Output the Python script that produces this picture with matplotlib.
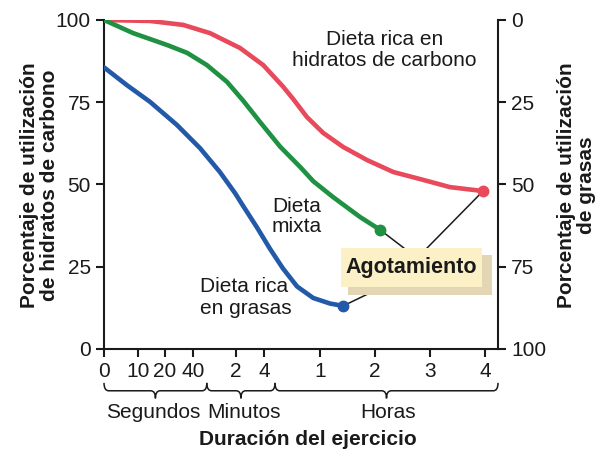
import matplotlib
matplotlib.use("Agg")
import matplotlib.pyplot as plt
from matplotlib.path import Path
from matplotlib.patches import PathPatch, Rectangle
from matplotlib.transforms import blended_transform_factory

plt.rcParams['font.family'] = ['Liberation Sans', 'DejaVu Sans']

# x is position along the axis (0-100), ticks are not evenly spaced in time
tick_pos = [0, 8.6, 15.5, 22.6, 33.5, 40.6, 54.8, 68.8, 82.7, 96.7]
tick_lab = ['0', '10', '20', '40', '2', '4', '1', '2', '3', '4']

# groups under the x axis: (start, end, label)
groups = [(0, 26.1, 'Segundos'), (26.1, 43.4, 'Minutos'), (43.4, 100, 'Horas')]
group_lab_x = [12.6, 35.6, 72.1]

red_x = [0, 11.7, 20.1, 26.9, 34.5, 40.4, 45.4, 48.0, 51.5, 55.6, 60.7, 66.8, 73.4, 81.0, 87.8, 96.2]
red_y = [100, 99.7, 98.5, 96.0, 91.5, 86.3, 79.8, 76.0, 70.5, 65.7, 61.4, 57.4, 53.8, 51.4, 49.2, 48.0]

green_x = [0, 7.4, 16.0, 21.1, 26.1, 31.2, 35.3, 39.6, 44.7, 49.8, 53.1, 58.1, 65.0, 70.1]
green_y = [100, 96.0, 92.4, 90.0, 86.3, 81.2, 75.5, 69.0, 61.5, 55.3, 51.0, 46.2, 40.1, 36.2]

blue_x = [0, 5.8, 11.7, 18.5, 24.4, 29.4, 33.3, 35.3, 38.8, 42.1, 45.4, 49.0, 53.1, 57.4, 60.7]
blue_y = [85.6, 80.2, 75.1, 68.1, 61.0, 53.8, 47.3, 43.5, 37.0, 30.5, 24.5, 19.0, 15.5, 13.8, 13.1]

RED = '#e84a5c'
GREEN = '#1f9142'
BLUE = '#2259a8'
INK = '#1a1a1a'

fig = plt.figure(figsize=(5.95, 4.53), dpi=100)
ax = fig.add_axes([0.1748, 0.2296, 0.6622, 0.7263])

for xs, ys, c in [(red_x, red_y, RED), (green_x, green_y, GREEN), (blue_x, blue_y, BLUE)]:
    ax.plot(xs, ys, color=c, lw=3.3, solid_capstyle='round', solid_joinstyle='round', zorder=3)
    ax.plot(xs[-1], ys[-1], 'o', color=c, ms=7.5, zorder=4)

ax.set_xlim(0, 100)
ax.set_ylim(0, 100)
ax.set_xticks(tick_pos)
ax.set_xticklabels(tick_lab)
ax.set_yticks([0, 25, 50, 75, 100])
for s in ['top', 'right']:
    ax.spines[s].set_visible(False)
for s in ['left', 'bottom']:
    ax.spines[s].set_linewidth(1.5)
    ax.spines[s].set_color(INK)
ax.tick_params(direction='out', length=5.5, width=1.5, labelsize=15, pad=4, colors=INK)

ax2 = ax.twinx()
ax2.set_ylim(100, 0)
ax2.set_yticks([0, 25, 50, 75, 100])
for s in ['top', 'left', 'bottom']:
    ax2.spines[s].set_visible(False)
ax2.spines['right'].set_linewidth(1.5)
ax2.spines['right'].set_color(INK)
ax2.tick_params(direction='out', length=5.5, width=1.5, labelsize=15, pad=4, colors=INK)

# curve labels
ax.text(71.1, 90.9, 'Dieta rica en\nhidratos de carbono', ha='center', va='center',
        fontsize=15, linespacing=1.15, color=INK)
ax.text(49.0, 40.3, 'Dieta\nmixta', ha='center', va='center', fontsize=15,
        linespacing=1.1, color=INK)
ax.text(24.4, 15.7, 'Dieta rica\nen grasas', ha='left', va='center', fontsize=15,
        linespacing=1.2, color=INK)

# Agotamiento box with shadow and leader lines
ax.add_patch(Rectangle((0.619, 0.164), 0.3655, 0.1216, transform=ax.transAxes,
                       facecolor='#e2d6b4', edgecolor='none', zorder=5))
ax.add_patch(Rectangle((0.6015, 0.1884), 0.358, 0.1185, transform=ax.transAxes,
                       facecolor='#fcf0c6', edgecolor='none', zorder=6))
ax.text(0.779, 0.247, 'Agotamiento', transform=ax.transAxes, ha='center', va='center',
        fontsize=15.5, fontweight='bold', color=INK, zorder=7)
ax.plot([blue_x[-1], 70.05], [blue_y[-1], 18.5], color=INK, lw=1.1, zorder=2)
ax.plot([green_x[-1], 76.1], [green_y[-1], 30.7], color=INK, lw=1.1, zorder=2)
ax.plot([red_x[-1], 82.0], [red_y[-1], 30.7], color=INK, lw=1.1, zorder=2)

# braces under the x axis
tr = blended_transform_factory(ax.transData, ax.transAxes)
y_top, y_mid, y_bot = -0.103, -0.127, -0.150
r = 1.2
for (x0, x1, lab), lx in zip(groups, group_lab_x):
    xm = (x0 + x1) / 2
    verts = [(x0, y_top), (x0, y_mid), (x0 + r, y_mid),
             (xm - r, y_mid), (xm, y_mid), (xm, y_bot),
             (xm, y_mid), (xm + r, y_mid),
             (x1 - r, y_mid), (x1, y_mid), (x1, y_top)]
    codes = [Path.MOVETO, Path.CURVE3, Path.CURVE3,
             Path.LINETO, Path.CURVE3, Path.CURVE3,
             Path.CURVE3, Path.CURVE3,
             Path.LINETO, Path.CURVE3, Path.CURVE3]
    ax.add_patch(PathPatch(Path(verts, codes), transform=tr, fill=False,
                           edgecolor=INK, lw=1.1, clip_on=False))
    ax.text(lx, -0.193, lab, transform=tr, ha='center', va='center', fontsize=15,
            color=INK, clip_on=False)

fig.text(0.518, 0.030, 'Duración del ejercicio', ha='center', va='center',
         fontsize=15, fontweight='bold', color=INK)
fig.text(0.066, 0.592, 'Porcentaje de utilización\nde hidratos de carbono', rotation=90,
         ha='center', va='center', fontsize=15, fontweight='bold', linespacing=1.06,
         color=INK)
fig.text(0.969, 0.592, 'Porcentaje de utilización\nde grasas', rotation=90,
         ha='center', va='center', fontsize=15, fontweight='bold', linespacing=1.1,
         color=INK)

fig.savefig('out.png', dpi=100)
